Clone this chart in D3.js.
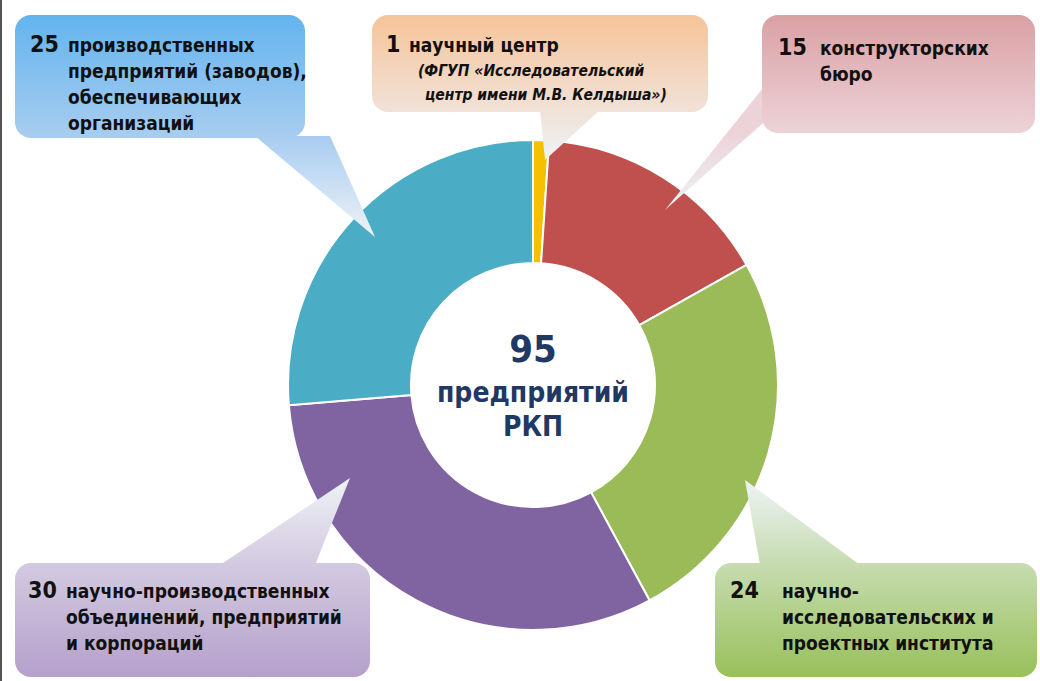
<!DOCTYPE html>
<html><head><meta charset="utf-8">
<script src="https://cdn.jsdelivr.net/npm/d3@7"></script>
<style>body{margin:0;background:#fff}text{font-family:"Liberation Sans Narrow","DejaVu Sans Condensed",sans-serif;font-weight:bold}</style>
</head><body><svg id="c" width="1040" height="681"></svg>
<script>
const categories=["научный центр","конструкторских бюро","научно-исследовательских и проектных института","научно-производственных объединений, предприятий и корпораций","производственных предприятий (заводов), обеспечивающих организаций"];
const values=[1,15,24,30,25];
const colors=["#f5c000","#c0504d","#9bbb59","#8064a2","#4bacc6"];
const total=d3.sum(values);
const svg=d3.select("#c");
const defs=svg.append("defs");
svg.append("rect").attr("x",0).attr("y",0).attr("width",2).attr("height",681).attr("fill","#555");
const cx=533,cy=385,R=245,r=122;
// callouts
const boxes=[
 {x:15,y:15,w:290,h:123,c1:"#62b4ee",c2:"#a9cdf0",tip:[375,237],base:[255,330],vert:"v"},
 {x:372,y:15,w:336,h:97,c1:"#f6c499",c2:"#f1e2d8",tip:[545,160],base:[540,600],vert:"v"},
 {x:762,y:15,w:273,h:118,c1:"#daa0a4",c2:"#ecd3d8",tip:[665,210],base:[770,830],vert:"v",side:"left"},
 {x:15,y:563,w:355,h:114,c1:"#d3cae0",c2:"#b5a0cb",tip:[350,478],base:[220,315],top:true},
 {x:715,y:563,w:322,h:114,c1:"#c7dcb0",c2:"#98c05a",tip:[745,480],base:[760,860],top:true}
];
boxes.forEach((b,i)=>{
 const g=defs.append("linearGradient").attr("id","g"+i).attr("x1",0).attr("y1",0).attr("x2",0).attr("y2",1);
 g.append("stop").attr("offset","0%").attr("stop-color",b.c1);
 g.append("stop").attr("offset","100%").attr("stop-color",b.c2);
 const pg=defs.append("linearGradient").attr("id","p"+i).attr("gradientUnits","userSpaceOnUse")
  .attr("x1",0).attr("y1",b.top?b.y:b.y+b.h).attr("x2",0).attr("y2",b.tip[1]);
 pg.append("stop").attr("offset","0%").attr("stop-color",b.top?b.c1:b.c2);
 pg.append("stop").attr("offset","100%").attr("stop-color","#eef3f7");
 let pts;
 if(b.side==="left") pts=[[b.x+1,b.y+b.h-45],[b.x+1,b.y+b.h-10],b.tip];
 else { const yy=b.top?b.y+2:b.y+b.h-2; pts=[[b.base[0],yy],[b.base[1],yy],b.tip]; }
 b.pts=pts;
});
const pie=d3.pie().sort(null).value(d=>d)(values);
const arc=d3.arc().innerRadius(r).outerRadius(R);
const ring=svg.append("g").attr("transform",`translate(${cx},${cy})`);
ring.selectAll("path").data(pie).join("path").attr("d",arc).attr("fill",(d,i)=>colors[i]).attr("stroke","#fff").attr("stroke-width",2);
boxes.forEach((b,i)=>{
 svg.append("path").attr("d","M"+b.pts.map(p=>p.join(",")).join("L")+"Z").attr("fill",`url(#p${i})`);
 svg.append("rect").attr("x",b.x).attr("y",b.y).attr("width",b.w).attr("height",b.h).attr("rx",16).attr("fill",`url(#g${i})`);
});
function txt(x,y,s,size,opt={}){return svg.append("text").attr("x",x).attr("y",y).attr("font-size",size).attr("fill",opt.fill||"#111").attr("font-style",opt.it?"italic":null).attr("font-weight",opt.w||"bold").attr("text-anchor",opt.a||"start").text(s);}
txt(30,52,values[4],23);txt(68,52,"производственных",19);txt(68,78,"предприятий (заводов),",19);txt(68,104,"обеспечивающих",19);txt(68,130,"организаций",19);
txt(386,52,values[0],23);txt(409,52,"научный центр",19);txt(418,76,"(ФГУП «Исследовательский",15.5,{it:1,w:"normal"});txt(425,100,"центр имени М.В. Келдыша»)",15.5,{it:1,w:"normal"});
txt(778,55,values[1],23);txt(820,55,"конструкторских",19);txt(820,81,"бюро",19);
txt(28,598,values[3],23);txt(66,598,"научно-производственных",19);txt(66,624,"объединений, предприятий",19);txt(66,650,"и корпораций",19);
txt(730,598,values[2],23);txt(782,598,"научно-",19);txt(782,624,"исследовательских и",19);txt(782,650,"проектных института",19);
txt(cx,362,total,38,{fill:"#1f3864",a:"middle"});
txt(cx,402,"предприятий",28,{fill:"#1f3864",a:"middle"});
txt(cx,436,"РКП",28,{fill:"#1f3864",a:"middle"});
</script></body></html>
